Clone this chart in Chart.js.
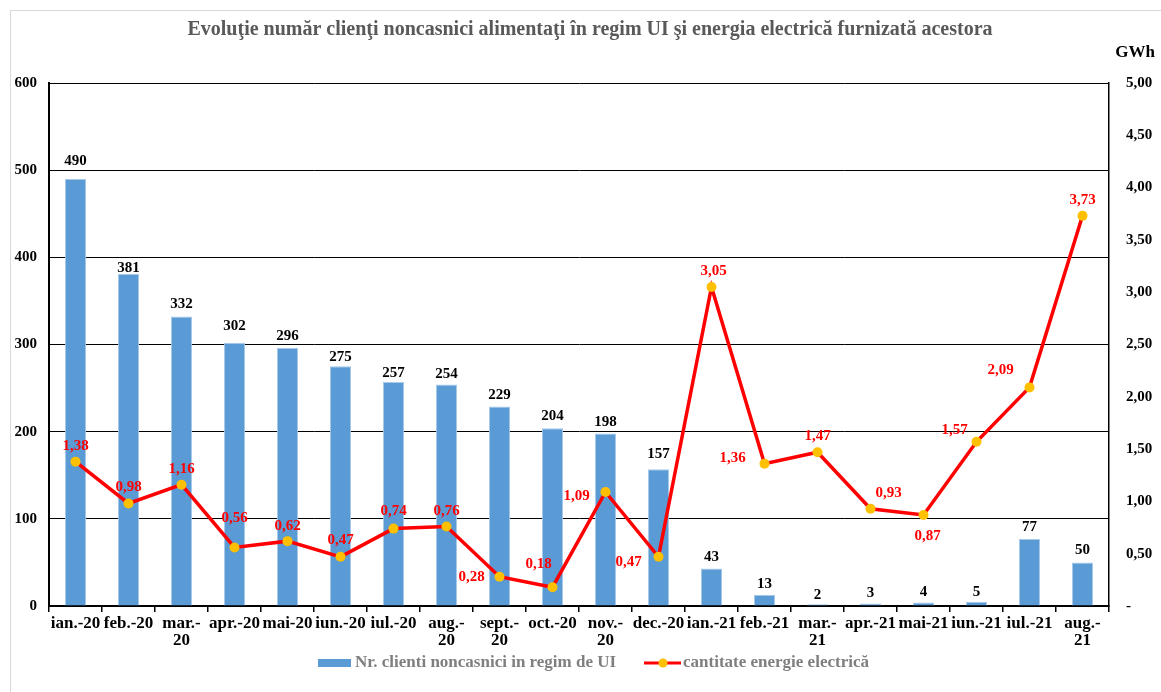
<!DOCTYPE html>
<html>
<head>
<meta charset="utf-8">
<script src="https://cdn.jsdelivr.net/npm/chart.js@4/dist/chart.umd.min.js"></script>
<style>
  html, body { margin: 0; padding: 0; background: #fff; }
  #wrap { position: relative; width: 1161px; height: 692px; }
</style>
</head>
<body>
<div id="wrap"><canvas id="c" width="1161" height="692"></canvas></div>
<script>
// Months (multi-line where the label wraps)
const months = [
  ['ian.-20'], ['feb.-20'], ['mar.-', '20'], ['apr.-20'], ['mai-20'],
  ['iun.-20'], ['iul.-20'], ['aug.-', '20'], ['sept.-', '20'], ['oct.-20'],
  ['nov.-', '20'], ['dec.-20'], ['ian.-21'], ['feb.-21'], ['mar.-', '21'],
  ['apr.-21'], ['mai-21'], ['iun.-21'], ['iul.-21'], ['aug.-', '21']
];

// Number of non-household customers supplied under last-resort regime (UI)
const clients = [490, 381, 332, 302, 296, 275, 257, 254, 229, 204, 198, 157, 43, 13, 2, 3, 4, 5, 77, 50];

// Electricity supplied to them, GWh
const energyGWh = [1.38, 0.98, 1.16, 0.56, 0.62, 0.47, 0.74, 0.76, 0.28, 0.18, 1.09, 0.47, 3.05, 1.36, 1.47, 0.93, 0.87, 1.57, 2.09, 3.73];

// Axis tick labels
const leftTickLabels = ['0', '100', '200', '300', '400', '500', '600'];
const rightTickLabels = ['-', '0,50', '1,00', '1,50', '2,00', '2,50', '3,00', '3,50', '4,00', '4,50', '5,00'];

// Where each red value label sits relative to its point (px)
const energyLabelOffsets = [
  [0, -16], [0, -16], [0, -16], [0, -29], [0, -15], [0, -17], [0, -17], [0, -15],
  [-28, 0], [-14, -23], [-29, 4], [-30, 5], [2, -16], [-32, -6], [0, -16],
  [18, -16], [4, 21], [-22, -12], [-29, -17], [0, -16]
];
// Vertical lift of each bar value label above its bar top (px)
const clientLabelLift = [19, 7, 13, 18, 13, 10, 10, 11, 12, 13, 12, 16, 12, 12, 10, 11, 11, 11, 13, 13];

const SERIF = '"Liberation Serif", "Times New Roman", serif';
const fmtGWh = v => v.toFixed(2).replace('.', ',');

const decorations = {
  id: 'decorations',
  beforeDraw(chart) {
    const ctx = chart.ctx;
    ctx.save();
    ctx.fillStyle = '#fff';
    ctx.fillRect(0, 0, chart.width, chart.height);
    ctx.strokeStyle = '#d9d9d9';
    ctx.lineWidth = 1;
    ctx.strokeRect(10.5, 10.5, 1300, 900);
    ctx.restore();
  },
  afterDatasetsDraw(chart) {
    const ctx = chart.ctx;
    ctx.save();
    ctx.textAlign = 'center';
    ctx.textBaseline = 'middle';
    ctx.font = 'bold 15px ' + SERIF;

    // bar values
    ctx.fillStyle = '#000';
    const barMeta = chart.getDatasetMeta(1);
    barMeta.data.forEach((bar, i) => {
      ctx.fillText(String(clients[i]), bar.x, bar.y - clientLabelLift[i] + 1);
    });

    // line values
    ctx.fillStyle = '#ff0000';
    const lineMeta = chart.getDatasetMeta(0);
    lineMeta.data.forEach((pt, i) => {
      const [dx, dy] = energyLabelOffsets[i];
      ctx.fillText(fmtGWh(energyGWh[i]), pt.x + dx, pt.y + dy);
    });
    ctx.restore();
  },
  afterDraw(chart) {
    const ctx = chart.ctx;
    ctx.save();
    // title
    ctx.textAlign = 'center';
    ctx.textBaseline = 'middle';
    ctx.fillStyle = '#595959';
    ctx.font = 'bold 20px ' + SERIF;
    ctx.fillText('Evoluţie număr clienţi noncasnici alimentaţi în regim UI şi energia electrică furnizată acestora', 590, 30);

    // right axis unit
    ctx.fillStyle = '#000';
    ctx.font = 'bold 17px ' + SERIF;
    ctx.fillText('GWh', 1135, 53);

    // legend
    const ly = 663;
    ctx.fillStyle = '#5b9bd5';
    ctx.fillRect(318, ly - 4, 33, 8);
    ctx.fillStyle = '#7f7f7f';
    ctx.font = 'bold 17px ' + SERIF;
    ctx.textAlign = 'left';
    ctx.fillText('Nr. clienti noncasnici in regim de UI', 355, ly);

    ctx.strokeStyle = '#ff0000';
    ctx.lineWidth = 3;
    ctx.beginPath();
    ctx.moveTo(644, ly);
    ctx.lineTo(681, ly);
    ctx.stroke();
    ctx.fillStyle = '#ffc000';
    ctx.beginPath();
    ctx.arc(663, ly, 4.5, 0, Math.PI * 2);
    ctx.fill();
    ctx.fillStyle = '#7f7f7f';
    ctx.fillText('cantitate energie electrică', 683, ly);
    ctx.restore();
  }
};

new Chart(document.getElementById('c'), {
  data: {
    labels: months,
    datasets: [
      {
        type: 'line',
        label: 'cantitate energie electrică',
        data: energyGWh,
        yAxisID: 'y1',
        borderColor: '#ff0000',
        borderWidth: 3.5,
        pointRadius: 5,
        pointBackgroundColor: '#ffc000',
        pointBorderWidth: 0,
        tension: 0,
        order: 0
      },
      {
        type: 'bar',
        label: 'Nr. clienti noncasnici in regim de UI',
        data: clients,
        yAxisID: 'y',
        backgroundColor: '#5b9bd5',
        borderColor: '#a8c9ea',
        borderWidth: 1,
        barPercentage: 0.4,
        categoryPercentage: 1.0,
        order: 1
      }
    ]
  },
  options: {
    responsive: false,
    animation: false,
    layout: { padding: { top: 83, left: 0, right: 0, bottom: 0 } },
    plugins: {
      legend: { display: false },
      title: { display: false },
      tooltip: { enabled: false }
    },
    scales: {
      x: {
        offset: true,
        grid: { offset: true, drawOnChartArea: false, drawTicks: true, tickLength: 6, color: '#000', lineWidth: 1.5 },
        border: { color: '#000', width: 2 },
        ticks: {
          color: '#000',
          autoSkip: false,
          maxRotation: 0,
          padding: 3,
          font: { family: SERIF, weight: 'bold', size: 17, lineHeight: 1.0 }
        },
        afterFit: s => { s.height = 86; }
      },
      y: {
        position: 'left',
        min: 0,
        max: 600,
        ticks: {
          stepSize: 100,
          color: '#000',
          padding: 12,
          font: { family: SERIF, weight: 'bold', size: 15 },
          callback: (v, i) => leftTickLabels[i]
        },
        grid: { color: '#000', lineWidth: 1, drawTicks: false },
        border: { color: '#000', width: 2 },
        afterFit: s => { s.width = 49; }
      },
      y1: {
        position: 'right',
        min: 0,
        max: 5,
        ticks: {
          stepSize: 0.5,
          color: '#000',
          padding: 17,
          font: { family: SERIF, weight: 'bold', size: 15 },
          callback: (v, i) => rightTickLabels[i]
        },
        grid: { drawOnChartArea: false, drawTicks: false },
        border: { color: '#000', width: 1.5 },
        afterFit: s => { s.width = 52; }
      }
    }
  },
  plugins: [decorations]
});
</script>
</body>
</html>
